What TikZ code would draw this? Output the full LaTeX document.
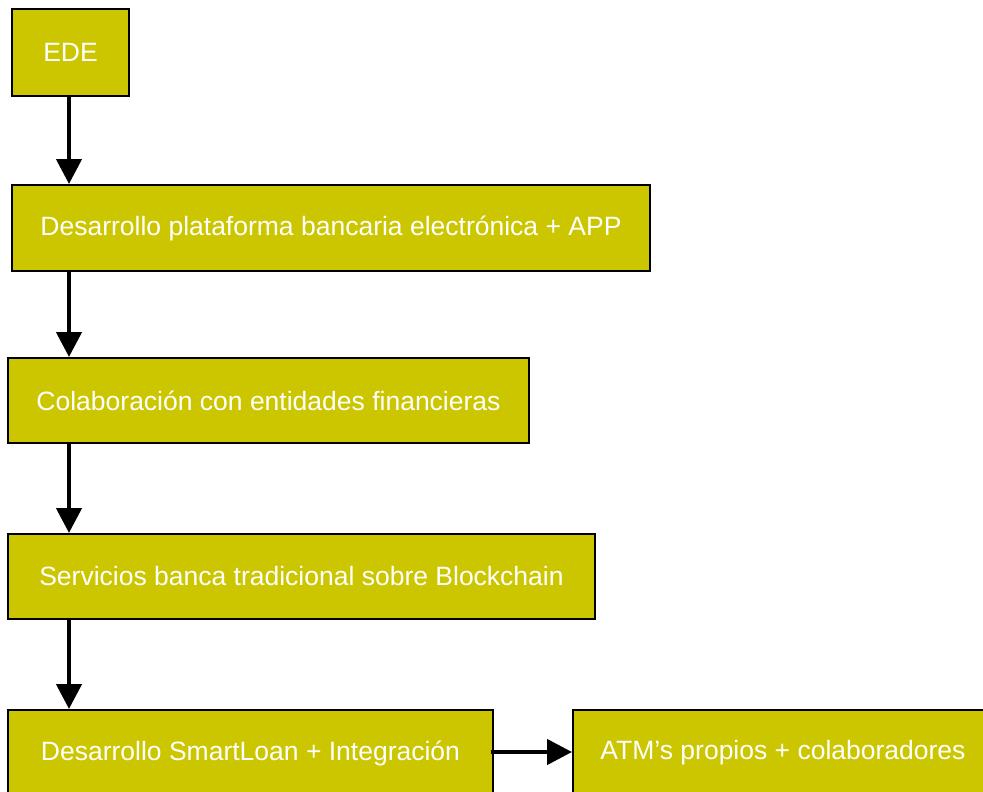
\documentclass[tikz,border=0pt]{standalone}
\usepackage{fontspec}
\setmainfont{Liberation Sans}
\usetikzlibrary{arrows.meta,calc}
\definecolor{boxfill}{RGB}{204,198,0}
\begin{document}
\begin{tikzpicture}[x=1pt,y=-1pt,
  stage/.style={draw=black,line width=2pt,fill=boxfill,text=white,anchor=north west,
    inner sep=0pt,font=\fontsize{26.5}{30}\selectfont},
  conn/.style={line width=4.5pt,-{Triangle[width=25pt,length=25pt]}}]
\useasboundingbox (0,0) rectangle (983,792);
\clip (0,0) rectangle (983,792);
\node[stage,minimum width=117pt,minimum height=87pt] (ede) at (11,8) {EDE};
\node[stage,minimum width=638pt,minimum height=86pt] (plat) at (11,184) {Desarrollo plataforma bancaria electrónica + APP};
\node[stage,minimum width=521pt,minimum height=85pt] (colab) at (7,357) {Colaboración con entidades financieras};
\node[stage,minimum width=587pt,minimum height=85pt] (serv) at (7,533) {Servicios banca tradicional sobre Blockchain};
\node[stage,minimum width=485pt,minimum height=86pt] (smart) at (7,709) {Desarrollo SmartLoan + Integración};
\node[stage,minimum width=420pt,minimum height=86pt] (atm) at (572,709) {ATM’s propios + colaboradores};
\coordinate (ax) at (69,0);
\coordinate (ay) at (0,752);
\draw[conn] (ede.south -| ax) -- (plat.north -| ax);
\draw[conn] ($(plat.south -| ax)+(0,-2)$) -- (colab.north -| ax);
\draw[conn] (colab.south -| ax) -- (serv.north -| ax);
\draw[conn] (serv.south -| ax) -- (smart.north -| ax);
\draw[conn] ($(smart.east |- ay)+(-3,0)$) -- (atm.west |- ay);
\end{tikzpicture}
\end{document}
